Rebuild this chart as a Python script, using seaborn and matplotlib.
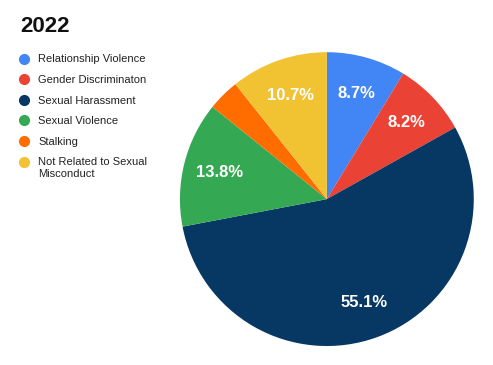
import matplotlib
matplotlib.use("Agg")
import matplotlib.pyplot as plt
from matplotlib.lines import Line2D
from matplotlib.legend_handler import HandlerLine2D
import seaborn as sns

categories = ["Relationship Violence", "Gender Discriminaton", "Sexual Harassment",
              "Sexual Violence", "Stalking", "Not Related to Sexual\nMisconduct"]
shares = [8.7, 8.2, 55.1, 13.8, 3.5, 10.7]
colors = ["#4285F4", "#EA4335", "#073763", "#34A853", "#FF6D01", "#F1C232"]
title = "2022"

sns.set_theme(style="white")
plt.rcParams['font.family'] = ['Liberation Sans', 'DejaVu Sans']


class TopLineHandler(HandlerLine2D):
    # put the marker next to the first line of a two-line label
    def create_artists(self, legend, orig_handle, xdescent, ydescent,
                       width, height, fontsize, trans):
        return super().create_artists(legend, orig_handle, xdescent,
                                      ydescent - 1.1 * fontsize, width, height,
                                      fontsize, trans)


fig = plt.figure(figsize=(4.93, 3.65), dpi=100)
ax = fig.add_axes([0.365, 0.052, 0.596, 0.805])

def fmt(p):
    # small slices stay unlabeled
    return f"{p:.1f}%" if p >= 5 else ""

wedges, texts, autotexts = ax.pie(
    shares, colors=colors, startangle=90, counterclock=False,
    autopct=fmt, pctdistance=0.75,
    wedgeprops=dict(linewidth=0),
    textprops=dict(color="white", fontsize=12, fontweight="bold"))
ax.set_xlim(-1, 1)
ax.set_ylim(-1, 1)
ax.set_aspect("equal")

fig.text(20 / 493, 1 - 26 / 365, title, fontsize=16, fontweight="bold",
         va="center", ha="left", color="#111111")

handles = [Line2D([0], [0], marker="o", linestyle="", markersize=7,
                  markerfacecolor=c, markeredgecolor=c) for c in colors]
hmap = {h: TopLineHandler() for h, lab in zip(handles, categories) if "\n" in lab}
fig.legend(handles, categories, loc="upper left",
           bbox_to_anchor=(14 / 493, 1 - 50 / 365), frameon=False,
           fontsize=8, handlelength=1.0, handletextpad=0.8,
           labelspacing=0.95, borderaxespad=0, labelcolor="#222222",
           handler_map=hmap)

fig.savefig("out.png", dpi=100)
